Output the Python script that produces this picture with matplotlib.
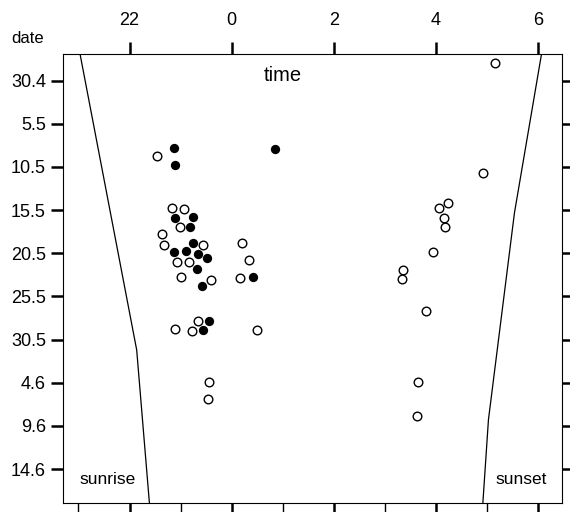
import numpy as np
import matplotlib
matplotlib.use("Agg")
import matplotlib.pyplot as plt

plt.rcParams['font.family'] = ['Liberation Sans', 'DejaVu Sans']

# clock time (hours) and date (days after 30 April)
filled_time = [22.88, 22.90, 0.85, 22.90, 23.24, 23.18, 23.25, 22.88, 23.10,
               23.34, 23.52, 23.33, 23.41, 0.42, 23.56, 23.44]
filled_day = [7.8, 9.8, 7.9, 15.9, 15.8, 17.0, 18.8, 19.8, 19.7,
              20.1, 20.5, 21.8, 23.8, 22.8, 27.8, 28.9]

open_time = [22.54, 22.83, 23.07, 22.99, 22.64, 22.68, 23.44, 22.92, 23.16,
             23.01, 23.59, 0.21, 0.34, 0.16, 23.34, 22.90, 23.22, 0.49,
             23.56, 23.54, 3.66, 3.63, 5.16, 4.93, 4.24, 4.06, 4.16, 4.17,
             3.94, 3.36, 3.34, 3.81]
open_day = [8.7, 14.7, 14.9, 17.0, 17.8, 19.0, 19.0, 21.0, 21.0,
            22.8, 23.1, 18.8, 20.8, 22.9, 27.8, 28.8, 29.0, 28.9,
            34.9, 36.9, 34.9, 38.8, -2.1, 10.7, 14.2, 14.8, 15.9, 17.0,
            19.8, 21.9, 23.0, 26.7]

sunrise_time = [21.03, 22.14, 22.39]
sunrise_day = [-3.1, 31.2, 49.0]
sunset_time = [6.07, 5.54, 5.03, 4.92]
sunset_day = [-3.1, 15.3, 39.3, 49.0]

hour_ticks = [22, 0, 2, 4, 6]
date_labels = ['30.4', '5.5', '10.5', '15.5', '20.5', '25.5', '30.5',
               '4.6', '9.6', '14.6']
date_ticks = [0, 5, 10, 15, 20, 25, 30, 35, 40, 45]


def rel(t):
    # hours relative to midnight, evening hours negative
    t = np.asarray(t, dtype=float)
    return np.where(t > 12, t - 24, t)


fig = plt.figure(figsize=(5.7, 5.12), dpi=100)
ax = fig.add_axes([0.1111, 0.0170, 0.8746, 0.8770])

ax.plot(rel(sunrise_time), sunrise_day, color='black', lw=0.9)
ax.plot(rel(sunset_time), sunset_day, color='black', lw=0.9)
ax.plot(rel(open_time), open_day, 'o', ls='none', ms=6.2, mew=1.0,
        mfc='white', mec='black')
ax.plot(rel(filled_time), filled_day, 'o', ls='none', ms=6.7, mew=0,
        mfc='black')

ax.set_xlim(-3.297, 6.468)
ax.set_ylim(48.97, -3.06)

ax.set_xticks(rel(hour_ticks))
ax.set_xticklabels([str(h) for h in hour_ticks])
ax.set_xticks(rel([21, 23, 1, 3, 5]), minor=True)
ax.set_yticks(date_ticks)
ax.set_yticklabels(date_labels)

ax.tick_params(axis='x', which='major', top=True, bottom=True,
               labeltop=True, labelbottom=False, length=9, width=1.8,
               pad=9.5, labelsize=13, direction='out')
ax.tick_params(axis='x', which='minor', top=False, bottom=True,
               length=9, width=1.0, direction='out')
ax.tick_params(axis='y', which='major', left=True, right=True,
               labelleft=True, labelright=False, length=8.5, width=1.8,
               pad=4, labelsize=13, direction='out')
for s in ax.spines.values():
    s.set_linewidth(0.8)

fig.text(27.7 / 570, 1 - 38.3 / 512, 'date', ha='center', va='center',
         fontsize=12)
fig.text(282.5 / 570, 1 - 75.8 / 512, 'time', ha='center', va='center',
         fontsize=14.5)
fig.text(108 / 570, 1 - 479.3 / 512, 'sunrise', ha='center', va='center',
         fontsize=12.5)
fig.text(521 / 570, 1 - 479.3 / 512, 'sunset', ha='center', va='center',
         fontsize=12.5)

fig.savefig('out.png', dpi=100)
